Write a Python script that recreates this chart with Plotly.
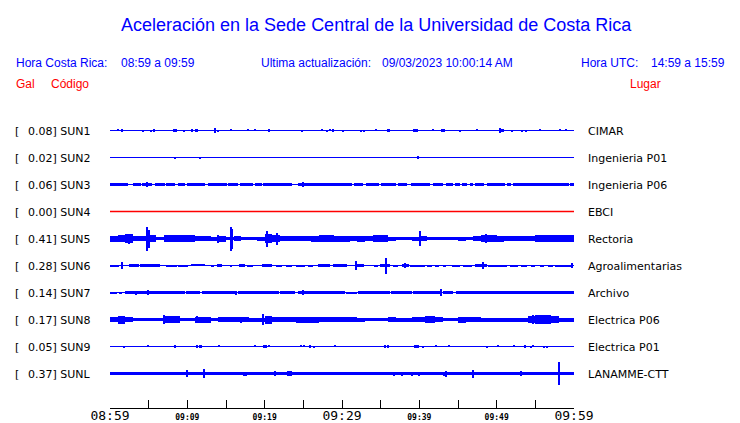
import plotly.graph_objects as go

# ---------------- data ----------------
stations = ["SUN1", "SUN2", "SUN3", "SUN4", "SUN5", "SUN6", "SUN7", "SUN8", "SUN9", "SUNL"]
gal = ["0.08", "0.02", "0.06", "0.00", "0.41", "0.28", "0.14", "0.17", "0.05", "0.37"]
places = ["CIMAR", "Ingenieria P01", "Ingenieria P06", "EBCI", "Rectoria",
          "Agroalimentarias", "Archivo", "Electrica P06", "Electrica P01", "LANAMME-CTT"]

tick_minutes = list(range(0, 61, 5))
tick_labels = ["08:59", "", "09:09", "", "09:19", "", "09:29", "", "09:39", "", "09:49", "", "09:59"]
major_labels = ["08:59", "09:29", "09:59"]

# bursts: (start_min, end_min, half_amplitude) or spikes: (min, half_amplitude)
sun1_bursts = [(1.08, 0.8), (1.5, 1.2), (4.3, 1.0), (5.26, 1.0), (5.55, 5.85, 1.2), (8.2, 8.6, 1.3),
               (9.6, 1.0), (10.55, 1.2), (11.1, 11.35, 1.3), (13.4, 13.7, 1.3), (13.55, 2.3), (14.0, 1.0),
               (15.6, 0.8), (17.8, 0.7), (18.7, 0.8), (20.6, 1.2), (24.8, 1.0), (27.45, 0.8), (28.1, 1.0),
               (28.5, 0.7), (28.9, 1.2), (30.1, 1.0), (32.5, 1.0), (32.9, 1.0), (34.4, 0.7),
               (35.85, 36.15, 1.2), (39.2, 39.8, 1.3), (41.8, 0.7), (42.8, 43.3, 1.3), (45.3, 1.0),
               (47.5, 0.7), (50.3, 50.9, 1.1), (50.5, 2.5), (52.0, 1.0), (53.3, 1.0), (53.8, 1.0),
               (55.6, 0.7), (58.2, 0.8), (59.0, 0.8)]
sun2_bursts = [(8.45, 1.0), (11.7, 1.0), (39.65, 39.95, 1.5)]
sun3_bursts = [(0, 2.37, 1.7), (3.0, 4.0, 1.7), (4.2, 5.4, 1.7), (4.8, 2.7), (5.8, 7.1, 1.7),
               (7.2, 8.4, 1.7), (8.8, 9.7, 1.7), (9.9, 12.3, 1.7), (12.7, 15.1, 1.7), (15.3, 16.6, 1.7),
               (16.8, 18.5, 1.7), (18.75, 19.6, 1.7), (19.8, 23.5, 1.7), (24.35, 30.4, 1.7), (25.0, 2.3),
               (30.4, 31.25, 1.7), (31.5, 32.76, 1.7), (33.1, 34.8, 1.7), (35.0, 37.0, 1.7),
               (37.2, 38.4, 1.7), (38.9, 41.4, 1.7), (41.8, 43.1, 1.7), (43.4, 44.4, 1.7),
               (44.6, 45.3, 1.7), (45.5, 46.1, 1.7), (46.5, 47.0, 1.7), (47.2, 48.3, 1.7),
               (48.7, 51.1, 1.7), (51.3, 51.9, 1.7), (52.1, 59.3, 1.7), (59.5, 60, 1.7)]
sun4_bursts = []
sun5_env = [3.0, 3.3, 4.2, 2.8, 2.3, 3.3, 1.8, 3.5, 3.8, 3.5,
            3.2, 2.7, 2.2, 2.0, 3.0, 1.8, 2.8, 1.8, 1.7, 2.0,
            4.2, 3.8, 2.8, 2.6, 2.9, 2.8, 3.0, 3.2, 3.3, 3.0,
            3.0, 2.8, 3.0, 2.6, 3.3, 3.3, 2.0, 1.8, 1.9, 2.0,
            2.2, 1.8, 1.7, 1.9, 1.8, 2.0, 1.9, 2.7, 3.3, 3.6,
            3.0, 2.8, 2.6, 2.8, 2.7, 3.5, 3.8, 3.9, 3.8, 3.8]
sun5_bursts = [(2.5, 5.0), (4.85, 12.0), (5.0, 9.0), (14.0, 4.0), (15.6, 12.0), (15.75, 10.0),
               (20.3, 8.0), (21.6, 6.0), (40.1, 7.5), (48.6, 4.5)]
sun6_bursts = [(0, 1.1, 1.0), (1.55, 3.2), (2.4, 3.7, 1.3), (3.9, 6.5, 1.3), (7.3, 8.6, 1.0),
               (8.8, 10.1, 1.0), (10.5, 12.3, 0.8), (13.0, 13.4, 1.0), (13.9, 14.5, 1.3),
               (15.5, 15.8, 1.0), (16.7, 17.4, 1.6), (17.7, 18.5, 1.0), (19.6, 20.9, 1.6),
               (21.5, 22.2, 1.0), (22.8, 23.5, 1.0), (24.1, 25.2, 1.0), (25.6, 26.3, 1.0),
               (26.9, 28.4, 1.3), (28.8, 30.6, 1.5), (31.7, 32.8, 1.3), (31.8, 4.8), (34.1, 34.7, 1.0),
               (34.9, 36.2, 1.3), (35.7, 8.0), (36.6, 37.3, 1.0), (37.7, 38.6, 1.3), (38.1, 2.8),
               (38.8, 40.7, 1.0), (41.0, 41.6, 1.0), (42.0, 42.5, 1.0), (43.1, 43.5, 1.0),
               (44.2, 45.3, 1.0), (45.7, 46.8, 1.0), (47.2, 48.7, 1.3), (48.3, 3.3), (48.9, 51.3, 1.0),
               (51.7, 52.8, 1.0), (53.2, 53.9, 1.0), (54.5, 54.9, 1.0), (55.6, 56.1, 1.0),
               (56.7, 57.3, 1.0), (57.5, 59.7, 1.0), (59.8, 2.5)]
sun7_bursts = [(0, 0.86, 1.0), (1.1, 1.6, 1.0), (1.9, 9.7, 1.3), (3.4, 2.0), (4.96, 2.7), (5.7, 1.7),
               (9.8, 11.6, 1.2), (11.85, 16.2, 1.3), (16.3, 2.0), (16.6, 21.8, 1.3), (17.4, 1.7),
               (18.3, 1.7), (22.0, 23.9, 1.2), (24.35, 30.4, 1.3), (25.0, 2.7), (28.6, 1.7),
               (30.5, 31.9, 1.0), (32.1, 36.2, 1.3), (36.4, 39.0, 1.3), (39.2, 42.7, 1.2), (39.9, 1.7),
               (42.8, 3.3), (43.1, 44.4, 1.3), (44.8, 60, 1.4), (51.8, 1.7), (54.4, 1.7)]
sun8_env = [2.6, 4.0, 2.6, 1.7, 1.7, 1.8, 1.7, 3.3, 3.3, 1.7,
            1.8, 3.0, 3.0, 1.7, 2.3, 2.4, 2.3, 2.8, 2.0, 2.0,
            4.0, 2.3, 2.3, 2.5, 3.0, 3.0, 3.0, 2.3, 2.5, 2.3,
            2.3, 2.4, 2.0, 1.7, 1.7, 1.8, 2.7, 2.0, 2.0, 2.5,
            2.7, 3.3, 2.7, 1.7, 1.8, 3.0, 2.7, 2.7, 2.0, 2.0,
            2.0, 2.0, 2.0, 2.0, 3.5, 4.7, 4.7, 3.5, 2.0, 2.0]
sun8_bursts = [(6.95, 4.3), (11.3, 3.7), (17.0, 3.0), (19.8, 5.3), (40.9, 3.5), (54.7, 4.7), (56.0, 4.7)]
sun9_bursts = [(1.85, 1.0), (4.96, 0.7), (8.4, 1.3), (11.2, 1.3), (11.6, 11.85, 1.3), (14.1, 0.7),
               (18.7, 0.7), (19.9, 1.3), (20.2, 1.3), (20.6, 0.7), (24.65, 0.7), (25.1, 0.7),
               (25.8, 26.0, 1.3), (26.4, 1.0), (29.1, 0.7), (35.6, 1.3), (36.0, 1.3),
               (39.3, 39.9, 1.3), (40.5, 1.0), (42.2, 0.7), (43.9, 0.7), (48.8, 1.0), (50.2, 0.7),
               (52.3, 0.7), (53.6, 53.8, 1.3), (54.4, 1.0), (54.7, 0.7), (56.1, 1.0), (56.5, 1.0)]
sunl_bursts = [(0, 6.5, 1.7), (6.5, 60, 1.4), (10.0, 3.8), (12.1, 4.3), (17.2, 17.7, 2.0),
               (18.8, 19.2, 1.7), (21.3, 2.7), (22.9, 23.5, 2.3), (25.6, 1.7), (28.1, 1.7), (29.4, 1.7),
               (35.1, 1.7), (36.7, 2.0), (37.7, 2.0), (39.1, 2.0), (39.9, 2.0), (43.2, 2.0), (43.4, 3.0),
               (46.9, 4.0), (51.8, 1.5), (53.1, 2.7), (58.1, 11.5), (58.8, 60, 1.7)]

bursts = [sun1_bursts, sun2_bursts, sun3_bursts, sun4_bursts, sun5_bursts,
          sun6_bursts, sun7_bursts, sun8_bursts, sun9_bursts, sunl_bursts]
envelopes = {"SUN5": sun5_env, "SUN8": sun8_env}

# ---------------- layout helpers ----------------
W, H = 740, 423
PLOT_L, PLOT_R = 110, 574
PLOT_B = 408
ROW0, ROW_STEP = 130.5, 27
HDR_DY, LAB_DY = 2.5, 1.0
SPIKE_W = 0.14
BLUE, RED = "#0000ff", "#ff0000"


def px(xpix):
    return (xpix - PLOT_L) / (PLOT_R - PLOT_L)


fig = go.Figure()

for i, st in enumerate(stations):
    c = ROW0 + ROW_STEP * i
    color = RED if st == "SUN4" else BLUE
    fig.add_trace(go.Scatter(x=[0, 60], y=[c, c], mode="lines",
                             line=dict(color=color, width=1.3 if st == "SUN4" else 1),
                             hoverinfo="skip"))
    xs, ws, bs, hs = [], [], [], []
    for m, a in enumerate(envelopes.get(st, [])):
        xs.append(m + 0.5); ws.append(1.0); bs.append(c - a); hs.append(2 * a)
    for b in bursts[i]:
        if len(b) == 2:
            t, a = b
            xs.append(t); ws.append(SPIKE_W)
        else:
            t0, t1, a = b
            xs.append((t0 + t1) / 2); ws.append(t1 - t0)
        bs.append(c - a); hs.append(2 * a)
    if xs:
        fig.add_trace(go.Bar(x=xs, y=hs, base=bs, width=ws,
                             marker=dict(color=color, line=dict(width=0)), hoverinfo="skip"))

ann = []
ann.append(dict(text="Aceleración en la Sede Central de la Universidad de Costa Rica",
                x=px(376), y=22 + HDR_DY, xanchor="center", yanchor="middle",
                font=dict(family="Liberation Sans", size=18, color=BLUE)))
hdr = dict(family="Liberation Sans", size=12, color=BLUE)
red = dict(family="Liberation Sans", size=12, color=RED)
for text, xp, yp, f in [("Hora Costa Rica:", 14, 60, hdr), ("08:59 a 09:59", 119, 60, hdr),
                        ("Ultima actualización:", 259, 60, hdr), ("09/03/2023 10:00:14 AM", 380, 60, hdr),
                        ("Hora UTC:", 579, 60, hdr), ("14:59 a 15:59", 649, 60, hdr),
                        ("Gal", 14, 81, red), ("Código", 49, 81, red), ("Lugar", 628, 81, red)]:
    ann.append(dict(text=text, x=px(xp), y=yp + HDR_DY, xanchor="left", yanchor="middle", font=f))

lab = dict(family="DejaVu Sans", size=11, color="black")
for i, st in enumerate(stations):
    c = ROW0 + ROW_STEP * i + LAB_DY
    ann.append(dict(text="[", x=px(13), y=c, xanchor="left", yanchor="middle", font=lab))
    ann.append(dict(text=f"{gal[i]}] {st}", x=px(26), y=c, xanchor="left", yanchor="middle", font=lab))
    ann.append(dict(text=places[i], x=px(586), y=c, xanchor="left", yanchor="middle", font=lab))

for a in ann:
    a.update(xref="paper", yref="y", showarrow=False)

ticktext = []
for t in tick_labels:
    if t == "" or t in major_labels:
        ticktext.append(t)
    else:
        ticktext.append(f'<span style="font-size:8px;font-weight:bold">{t}</span>')

fig.update_layout(
    width=W, height=H, autosize=False,
    margin=dict(l=PLOT_L, r=W - PLOT_R, t=0, b=H - PLOT_B, autoexpand=False),
    paper_bgcolor="white", plot_bgcolor="white",
    showlegend=False, barmode="overlay", bargap=0,
    annotations=ann,
    xaxis=dict(range=[0, 60], tickmode="array", tickvals=tick_minutes, ticktext=ticktext,
               ticks="inside", ticklen=8, tickcolor="black", tickwidth=1, automargin=False,
               ticklabelstandoff=-5,
               showline=True, linecolor="black", linewidth=1, showgrid=False, zeroline=False,
               tickfont=dict(family="DejaVu Sans Mono", size=13, color="black"), fixedrange=True),
    yaxis=dict(range=[PLOT_B, 0], visible=False, showgrid=False, zeroline=False,
               automargin=False, fixedrange=True),
)

fig.write_html("out.html", config={"displayModeBar": False, "responsive": False},
               post_script="document.body.style.margin='0px';document.body.style.overflow='hidden';")
